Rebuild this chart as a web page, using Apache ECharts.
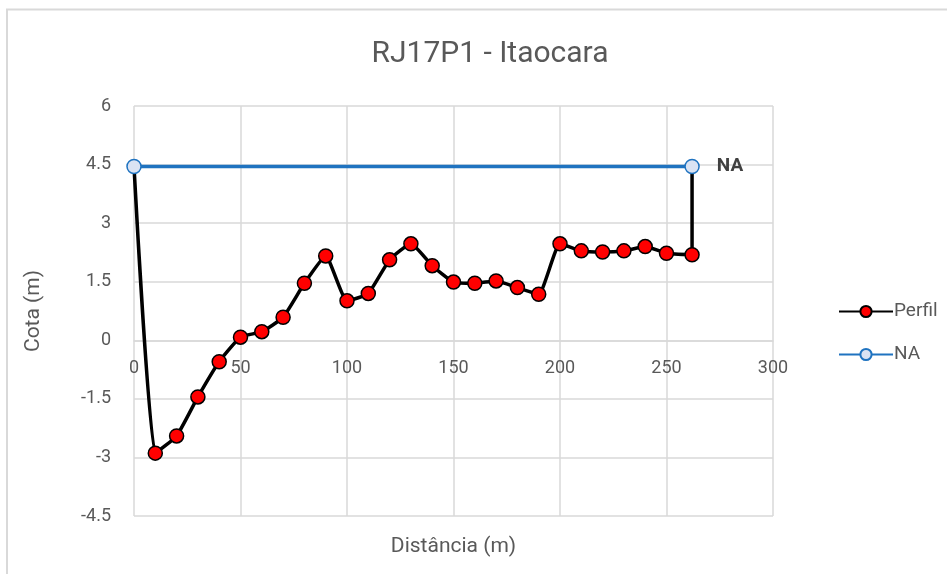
<!DOCTYPE html>
<html>
<head>
<meta charset="utf-8">
<title>RJ17P1 - Itaocara</title>
<script src="https://cdn.jsdelivr.net/npm/echarts@6/dist/echarts.min.js"></script>
<style>
  html, body { margin: 0; padding: 0; background: #fff; }
  #chart { width: 947px; height: 574px; }
</style>
</head>
<body>
<div id="chart"></div>
<script>
// dados
var distPerfil = [0, 10, 20, 30, 40, 50, 60, 70, 80, 90, 100, 110, 120, 130, 140, 150, 160, 170, 180, 190, 200, 210, 220, 230, 240, 250, 262, 262];
var cotaPerfil = [4.45, -2.89, -2.45, -1.45, -0.55, 0.08, 0.22, 0.59, 1.46, 2.16, 1.01, 1.2, 2.06, 2.47, 1.91, 1.49, 1.46, 1.52, 1.35, 1.18, 2.47, 2.29, 2.26, 2.29, 2.4, 2.23, 2.19, 4.45];
var distNA = [0, 262];
var cotaNA = [4.45, 4.45];
var xTicks = { min: 0, max: 300, interval: 50 };
var yTicks = { min: -4.5, max: 6, interval: 1.5 };

var fonte = "'Liberation Sans Narrow', 'Roboto', sans-serif";
var cinza = "#595959";
var grade = "#d9d9d9";

var gridTop = 106;
var gridBottom = 58;
var alturaGrid = 574 - gridTop - gridBottom;
// o eixo x cruza o y no zero (como no Excel)
var offsetZero = -alturaGrid * (0 - yTicks.min) / (yTicks.max - yTicks.min);

var chart = echarts.init(document.getElementById("chart"));

var perfilData = [];
for (var i = 0; i < distPerfil.length; i++) {
  var item = { value: [distPerfil[i], cotaPerfil[i]] };
  // pontas do perfil ficam sem marcador (ficam sob o NA)
  if (i == 0 || i == distPerfil.length - 1) {
    item.symbol = "none";
  }
  perfilData.push(item);
}

var naData = [];
for (var j = 0; j < distNA.length; j++) {
  var p = { value: [distNA[j], cotaNA[j]] };
  if (j == distNA.length - 1) {
    p.label = {
      show: true,
      position: "right",
      distance: 17,
      formatter: "NA",
      color: "#404040",
      fontWeight: "bold",
      fontSize: 19,
      fontFamily: fonte
    };
  }
  naData.push(p);
}

var option = {
  backgroundColor: "#fff",
  animation: false,
  textStyle: { fontFamily: fonte },
  title: {
    text: "RJ17P1 - Itaocara",
    left: 485,
    top: 34,
    textAlign: "center",
    textStyle: {
      fontFamily: fonte,
      fontSize: 30,
      fontWeight: "normal",
      color: cinza
    }
  },
  graphic: [
    {
      type: "rect",
      shape: { x: 7, y: 9.5, width: 960, height: 600 },
      style: { fill: "none", stroke: grade, lineWidth: 2 },
      silent: true
    }
  ],
  legend: {
    orient: "vertical",
    left: 833,
    top: 297,
    itemWidth: 54,
    itemHeight: 14,
    itemGap: 24,
    textStyle: { fontFamily: fonte, fontSize: 19, color: cinza, padding: [0, 0, 0, -4] },
    data: ["Perfil", "NA"]
  },
  grid: {
    left: 134,
    right: 174,
    top: gridTop,
    bottom: gridBottom,
    outerBoundsMode: "none"
  },
  xAxis: {
    type: "value",
    min: xTicks.min,
    max: xTicks.max,
    interval: xTicks.interval,
    offset: offsetZero,
    name: "Distância (m)",
    nameLocation: "middle",
    nameGap: 196,
    nameTextStyle: { fontFamily: fonte, fontSize: 21, color: cinza },
    axisLine: { show: true, onZero: false, lineStyle: { color: grade, width: 1.5 } },
    axisTick: { show: false },
    axisLabel: { fontFamily: fonte, fontSize: 18, color: cinza, margin: 19 },
    splitLine: { show: true, lineStyle: { color: grade, width: 1.5 } }
  },
  yAxis: {
    type: "value",
    min: yTicks.min,
    max: yTicks.max,
    interval: yTicks.interval,
    name: "Cota (m)",
    nameLocation: "middle",
    nameGap: 90,
    nameRotate: 90,
    nameTextStyle: { fontFamily: fonte, fontSize: 21, color: cinza },
    axisLine: { show: false },
    axisTick: { show: false },
    axisLabel: { fontFamily: fonte, fontSize: 18, color: cinza, margin: 23 },
    splitLine: { show: true, lineStyle: { color: grade, width: 1.5 } }
  },
  series: [
    {
      name: "Perfil",
      type: "line",
      smooth: 0.15,
      symbol: "circle",
      symbolSize: 14,
      lineStyle: { color: "#000", width: 3.5 },
      itemStyle: { color: "#ff0000", borderColor: "#000", borderWidth: 1.5 },
      data: perfilData,
      z: 2
    },
    {
      name: "NA",
      type: "line",
      symbol: "circle",
      symbolSize: 14,
      lineStyle: { color: "#1f73c0", width: 3.5 },
      itemStyle: { color: "#dae3f3", borderColor: "#1f73c0", borderWidth: 1.5 },
      data: naData,
      z: 3
    }
  ]
};

chart.setOption(option);
</script>
</body>
</html>
